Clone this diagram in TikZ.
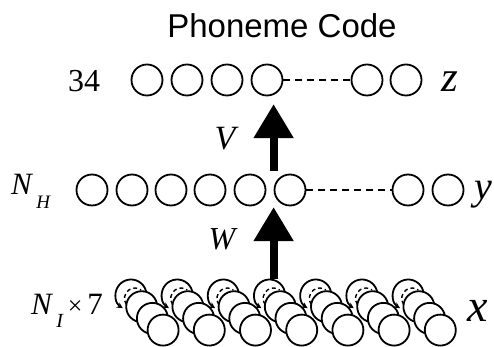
\documentclass[tikz,border=0pt]{standalone}
\usepackage{fontspec}
\setmainfont{Liberation Serif}
\newfontfamily\titlefont{Liberation Sans}
\usetikzlibrary{arrows.meta}

\tikzset{
  neuron/.style={circle, draw, line width=1.8pt, minimum size=31pt, inner sep=0pt, fill=white},
  ring/.style={line width=1.8pt},
  link/.style={line width=1.5pt, dash pattern=on 7pt off 5pt},
  bigarrow/.style={line width=8pt, -{Triangle[length=34pt,width=38pt]}},
  lbl/.style={anchor=base, inner sep=0pt}
}

\begin{document}
\begin{tikzpicture}[x=1pt,y=1pt]
  \useasboundingbox (0,0) rectangle (494,347);

  % Titulo
  \node[lbl, font=\titlefont\fontsize{33}{36}\selectfont] (title) at (282,309) {Phoneme Code};

  % Capa de salida z
  \foreach \i/\x in {1/147, 2/187, 3/227, 4/267, 5/367, 6/406} {
    \node[neuron] (z\i) at (\x,267) {};
  }
  \draw[link] (z4) -- (z5);
  \node[lbl, font=\fontsize{32}{34}\selectfont] (nz) at (84,255) {34};
  \node[lbl, font=\fontsize{43}{45}\selectfont\itshape] (zlab) at (450,255) {z};

  % Capa oculta y
  \foreach \i/\x in {1/92, 2/132, 3/171, 4/210, 5/250, 6/290, 7/408, 8/448} {
    \node[neuron] (y\i) at (\x,157) {};
  }
  \draw[link] (y6) -- (y7);
  \node[anchor=base west, inner sep=0pt, font=\fontsize{31}{33}\selectfont] (nh) at (11,152)
    {\textit{N}\hspace{3pt}\raisebox{-14pt}{\fontsize{19}{19}\selectfont\textit{H}}};
  \node[lbl, font=\fontsize{40}{42}\selectfont\itshape] (ylab) at (483,147) {y};

  % Capa de entrada x
  \foreach \i in {1,...,7} {
    \pgfmathsetmacro{\cx}{131+46.2*(\i-1)}
    \node[neuron, draw=none, fill=none] (x\i-0) at (\cx,52) {};
    \draw[ring, -{Stealth[length=6pt,width=6pt]}] (x\i-0.center) ++(-30:15.5)
      arc[start angle=-30, end angle=238, radius=15.5];
    \draw[line width=1.4pt, dash pattern=on 4pt off 3pt] (x\i-0.center) ++(4,-3.5) ++(215:10.5)
      arc[start angle=215, end angle=55, radius=10.5];
    \foreach \k in {1,2,3} {
      \node[neuron] (x\i-\k) at (\cx+10.7*\k, 52-11.7*\k) {};
    }
  }
  \node[anchor=base west, inner sep=0pt, font=\fontsize{31}{33}\selectfont] (ni) at (31,32)
    {\textit{N}\hspace{3pt}\raisebox{-13pt}{\fontsize{20}{20}\selectfont\textit{I}}\hspace{4pt}{\fontsize{26}{26}\selectfont\texttimes}\hspace{5pt}7};
  \node[lbl, font=\fontsize{46}{48}\selectfont\itshape] (xlab) at (478,25) {x};

  % Pesos W y V
  \path ([xshift=4pt]x4-0.north) ++(0,71.5) coordinate (wtip);
  \path ([xshift=4pt]x4-0.north) ++(0,107.5) coordinate (vfoot) ++(0,67) coordinate (vtip);
  \draw[bigarrow] ([xshift=4pt]x4-0.north) -- (wtip);
  \draw[bigarrow] (vfoot) -- (vtip);
  \node[lbl, font=\fontsize{32}{34}\selectfont\itshape] (wlab) at (222,97) {W};
  \node[lbl, font=\fontsize{34}{36}\selectfont\itshape] (vlab) at (225,197) {V};
\end{tikzpicture}
\end{document}
